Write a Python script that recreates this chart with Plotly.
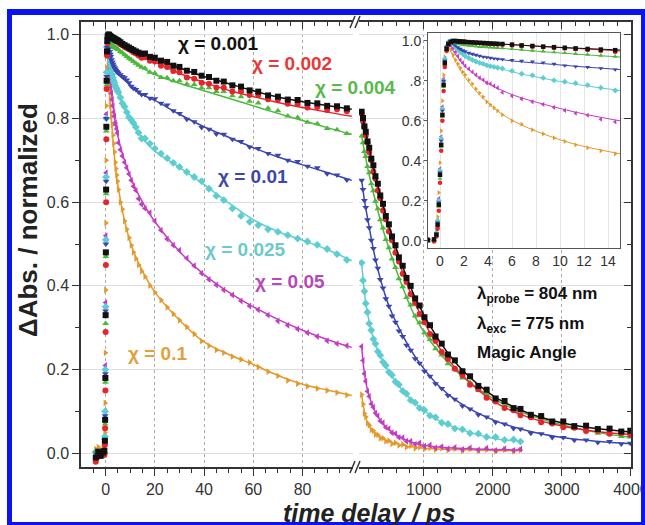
import plotly.graph_objects as go

# ---------------- data ----------------
T_EARLY = [-4, -3, -2, -1, -0.5, -0.3, -0.2, -0.1, 0, 0.1, 0.2, 0.3, 0.4, 0.55,
           0.7, 0.9, 1.1, 1.3, 1.5, 1.7, 1.9, 2.1, 2.4, 2.7, 3.0, 3.3, 3.6, 3.9,
           4.2, 4.5, 4.8, 5.2, 6.0, 6.8, 7.7, 8.6, 9.5, 10.4, 11.3, 12.3, 13.4, 14.6]
T_MID = [16, 18, 20, 22.5, 25, 27.5, 30, 33, 36, 39, 42, 45, 48, 51.5, 55, 58.5,
         62, 66, 70, 74, 78, 82, 86, 90, 94, 98]
T_LATE = [100, 120, 140, 160, 185, 210, 240, 270, 300, 335, 370, 410, 450, 495,
          540, 590, 640, 695, 750, 810, 875, 940, 1010, 1090, 1170, 1260, 1350,
          1450, 1560, 1670, 1790, 1910, 2040, 2170, 2300, 2400, 2550, 2700, 2860,
          3020, 3180, 3350, 3520, 3690, 3860, 3990]
TF_LEFT = [0.7, 2, 5, 10, 15, 20, 30, 40, 50, 60, 70, 80, 90, 100]
TF_RIGHT = [100, 150, 200, 300, 400, 500, 700, 900, 1200, 1500, 2000, 2500, 3000, 3500, 4000]
TF_RIGHT_SHORT = [100, 150, 200, 300, 400, 500, 700, 900, 1200, 1500, 2000, 2400]

# chi = 0.001 (black)
E_BLACK = [-0.01, 0.004, -0.006, 0.002, 0.006, 0.03, 0.08, 0.18, 0.33, 0.48, 0.63, 0.78, 0.89, 0.96,
           0.985, 0.995, 1.0, 1.0, 0.998, 0.997, 0.996, 0.995, 0.994, 0.993, 0.992, 0.991, 0.99, 0.989,
           0.988, 0.987, 0.986, 0.985, 0.982, 0.978, 0.975, 0.972, 0.969, 0.966, 0.963, 0.96, 0.957, 0.954]
M_BLACK = [0.955, 0.947, 0.945, 0.938, 0.935, 0.926, 0.923, 0.914, 0.911, 0.902, 0.899, 0.890, 0.888,
           0.879, 0.876, 0.867, 0.864, 0.855, 0.852, 0.845, 0.844, 0.837, 0.836, 0.830, 0.829, 0.824]
L_BLACK = [0.816, 0.801, 0.781, 0.768, 0.745, 0.730, 0.704, 0.688, 0.662, 0.644, 0.616, 0.596, 0.567,
           0.547, 0.518, 0.497, 0.468, 0.448, 0.419, 0.400, 0.370, 0.353, 0.325, 0.306, 0.279, 0.262,
           0.236, 0.222, 0.196, 0.184, 0.161, 0.152, 0.131, 0.125, 0.108, 0.106, 0.092, 0.089, 0.076,
           0.076, 0.065, 0.066, 0.058, 0.059, 0.052, 0.054]
FL_BLACK = [0.99, 0.995, 0.985, 0.968, 0.955, 0.943, 0.921, 0.900, 0.883, 0.866, 0.851, 0.840, 0.831, 0.822]
FR_BLACK = [0.816, 0.775, 0.736, 0.664, 0.600, 0.541, 0.443, 0.363, 0.275, 0.209, 0.138, 0.097, 0.073, 0.059, 0.051]

# chi = 0.002 (red)
E_RED = [-0.02, -0.008, 0.003, 0.006, -0.004, 0.02, 0.06, 0.15, 0.29, 0.45, 0.6, 0.75, 0.87, 0.95,
         0.98, 0.995, 1.0, 1.0, 1.0, 0.999, 0.998, 0.997, 0.995, 0.993, 0.991, 0.99, 0.988, 0.986,
         0.985, 0.984, 0.983, 0.981, 0.978, 0.975, 0.971, 0.968, 0.965, 0.962, 0.958, 0.955, 0.95, 0.945]
M_RED = [0.946, 0.938, 0.936, 0.926, 0.923, 0.913, 0.910, 0.898, 0.895, 0.885, 0.883, 0.874, 0.873,
         0.864, 0.864, 0.856, 0.856, 0.846, 0.845, 0.835, 0.834, 0.826, 0.827, 0.820, 0.822, 0.817]
L_RED = [0.812, 0.793, 0.780, 0.759, 0.743, 0.719, 0.700, 0.673, 0.656, 0.628, 0.609, 0.580, 0.559,
         0.530, 0.509, 0.479, 0.458, 0.429, 0.409, 0.380, 0.359, 0.333, 0.313, 0.285, 0.268, 0.242,
         0.225, 0.202, 0.186, 0.164, 0.153, 0.133, 0.124, 0.108, 0.103, 0.091, 0.086, 0.074, 0.071,
         0.062, 0.061, 0.053, 0.054, 0.047, 0.048, 0.044]
FL_RED = [0.99, 0.995, 0.985, 0.967, 0.950, 0.935, 0.908, 0.886, 0.867, 0.852, 0.838, 0.826, 0.815, 0.805]
FR_RED = [0.812, 0.769, 0.728, 0.654, 0.589, 0.530, 0.429, 0.349, 0.258, 0.196, 0.125, 0.087, 0.065, 0.052, 0.045]

# chi = 0.004 (green)
E_GREEN = [0.005, -0.003, 0.004, -0.002, 0.003, 0.03, 0.07, 0.17, 0.31, 0.47, 0.62, 0.77, 0.88, 0.955,
           0.985, 0.995, 0.993, 0.99, 0.986, 0.984, 0.981, 0.979, 0.977, 0.975, 0.973, 0.971, 0.97, 0.969,
           0.968, 0.967, 0.966, 0.964, 0.96, 0.957, 0.952, 0.948, 0.944, 0.94, 0.936, 0.932, 0.927, 0.922]
M_GREEN = [0.920, 0.910, 0.908, 0.898, 0.897, 0.890, 0.890, 0.882, 0.881, 0.873, 0.873, 0.864, 0.864,
           0.854, 0.852, 0.841, 0.837, 0.824, 0.818, 0.806, 0.802, 0.791, 0.787, 0.776, 0.773, 0.764]
L_GREEN = [0.758, 0.742, 0.721, 0.709, 0.685, 0.670, 0.644, 0.627, 0.602, 0.584, 0.558, 0.538, 0.511,
           0.491, 0.464, 0.444, 0.417, 0.398, 0.372, 0.354, 0.328, 0.312, 0.288, 0.272, 0.250, 0.235,
           0.214, 0.201, 0.180, 0.169, 0.151, 0.142, 0.125, 0.118, 0.104, 0.101, 0.088, 0.084, 0.072,
           0.069, 0.059, 0.057, 0.048, 0.047, 0.040, 0.039]
FL_GREEN = [0.99, 0.980, 0.964, 0.940, 0.920, 0.905, 0.884, 0.866, 0.848, 0.830, 0.812, 0.795, 0.778, 0.762]
FR_GREEN = [0.758, 0.713, 0.672, 0.602, 0.540, 0.487, 0.394, 0.318, 0.245, 0.192, 0.131, 0.093, 0.068, 0.050, 0.038]

# chi = 0.01 (blue)
E_BLUE = [0.0, 0.006, -0.004, 0.003, -0.002, 0.03, 0.09, 0.19, 0.34, 0.5, 0.65, 0.8, 0.9, 0.97,
          0.99, 1.0, 0.99, 0.98, 0.968, 0.96, 0.953, 0.948, 0.94, 0.935, 0.93, 0.925, 0.921, 0.918,
          0.915, 0.912, 0.91, 0.908, 0.904, 0.9, 0.897, 0.892, 0.885, 0.877, 0.872, 0.869, 0.863, 0.857]
M_BLUE = [0.857, 0.848, 0.847, 0.836, 0.832, 0.818, 0.812, 0.798, 0.792, 0.778, 0.774, 0.763, 0.762,
          0.750, 0.745, 0.732, 0.728, 0.716, 0.712, 0.700, 0.697, 0.686, 0.682, 0.668, 0.665, 0.653]
L_BLUE = [0.652, 0.630, 0.604, 0.587, 0.558, 0.539, 0.509, 0.489, 0.462, 0.442, 0.415, 0.395, 0.369,
          0.351, 0.328, 0.313, 0.292, 0.279, 0.258, 0.246, 0.226, 0.215, 0.196, 0.184, 0.166, 0.155,
          0.138, 0.129, 0.113, 0.106, 0.092, 0.087, 0.074, 0.070, 0.059, 0.058, 0.048, 0.047, 0.038,
          0.038, 0.031, 0.032, 0.026, 0.028, 0.022, 0.024]
FL_BLUE = [1.0, 0.945, 0.908, 0.880, 0.857, 0.843, 0.810, 0.780, 0.755, 0.730, 0.708, 0.689, 0.671, 0.652]
FR_BLUE = [0.652, 0.595, 0.549, 0.464, 0.400, 0.350, 0.280, 0.225, 0.164, 0.123, 0.080, 0.054, 0.038, 0.029, 0.023]

# chi = 0.025 (cyan)
E_CYAN = [0.004, -0.004, 0.002, 0.005, 0.0, 0.04, 0.1, 0.2, 0.35, 0.51, 0.66, 0.8, 0.91, 0.97,
          0.995, 1.0, 0.985, 0.97, 0.955, 0.945, 0.935, 0.925, 0.915, 0.905, 0.897, 0.89, 0.885, 0.878,
          0.874, 0.87, 0.866, 0.862, 0.85, 0.836, 0.828, 0.815, 0.803, 0.796, 0.789, 0.779, 0.766, 0.752]
M_CYAN = [0.752, 0.740, 0.728, 0.716, 0.705, 0.694, 0.684, 0.672, 0.660, 0.650, 0.632, 0.615, 0.605,
          0.585, 0.567, 0.553, 0.545, 0.535, 0.529, 0.521, 0.513, 0.506, 0.498, 0.488, 0.476, 0.462]
L_CYAN = [0.455, 0.413, 0.387, 0.358, 0.337, 0.310, 0.294, 0.273, 0.262, 0.243, 0.234, 0.218, 0.210,
          0.194, 0.187, 0.171, 0.164, 0.149, 0.142, 0.127, 0.121, 0.108, 0.103, 0.090, 0.086, 0.073,
          0.070, 0.059, 0.057, 0.048, 0.047, 0.039, 0.039, 0.032, 0.033, 0.028]
FL_CYAN = [1.0, 0.930, 0.862, 0.797, 0.752, 0.722, 0.683, 0.642, 0.598, 0.558, 0.530, 0.509, 0.487, 0.460]
FR_CYAN = [0.455, 0.372, 0.322, 0.260, 0.223, 0.194, 0.149, 0.116, 0.080, 0.059, 0.036, 0.029]

# chi = 0.05 (magenta)
E_MAGENTA = [-0.015, 0.003, -0.005, 0.004, 0.006, 0.04, 0.1, 0.21, 0.36, 0.52, 0.67, 0.81, 0.91, 0.97,
             0.99, 0.982, 0.965, 0.945, 0.925, 0.905, 0.89, 0.875, 0.86, 0.845, 0.83, 0.815, 0.805, 0.79,
             0.785, 0.775, 0.765, 0.742, 0.725, 0.71, 0.695, 0.682, 0.667, 0.652, 0.638, 0.628, 0.608, 0.595]
M_MAGENTA = [0.585, 0.575, 0.555, 0.533, 0.512, 0.497, 0.485, 0.466, 0.448, 0.430, 0.415, 0.402, 0.390,
             0.378, 0.364, 0.352, 0.343, 0.330, 0.316, 0.306, 0.297, 0.288, 0.279, 0.269, 0.262, 0.257]
L_MAGENTA = [0.255, 0.222, 0.190, 0.172, 0.148, 0.136, 0.118, 0.110, 0.096, 0.090, 0.077, 0.073, 0.062,
             0.059, 0.049, 0.047, 0.038, 0.037, 0.029, 0.029, 0.022, 0.025, 0.017, 0.020, 0.013, 0.016,
             0.011, 0.014, 0.009, 0.013, 0.008, 0.012, 0.007, 0.011, 0.007, 0.010]
FL_MAGENTA = [0.99, 0.880, 0.757, 0.662, 0.600, 0.553, 0.482, 0.427, 0.385, 0.350, 0.320, 0.294, 0.272, 0.253]
FR_MAGENTA = [0.255, 0.180, 0.142, 0.098, 0.072, 0.056, 0.035, 0.023, 0.015, 0.012, 0.009, 0.008]

# chi = 0.1 (orange)
E_ORANGE = [0.01, 0.015, 0.005, 0.012, 0.008, 0.05, 0.12, 0.24, 0.39, 0.55, 0.7, 0.83, 0.92, 0.975,
            0.98, 0.955, 0.93, 0.905, 0.885, 0.865, 0.845, 0.83, 0.805, 0.785, 0.76, 0.74, 0.72, 0.695,
            0.68, 0.665, 0.65, 0.63, 0.6, 0.583, 0.555, 0.535, 0.515, 0.497, 0.48, 0.465, 0.45, 0.435]
M_ORANGE = [0.422, 0.401, 0.384, 0.366, 0.349, 0.333, 0.318, 0.302, 0.285, 0.268, 0.257, 0.247, 0.240,
            0.231, 0.224, 0.217, 0.206, 0.195, 0.185, 0.174, 0.166, 0.160, 0.155, 0.150, 0.145, 0.139]
L_ORANGE = [0.140, 0.117, 0.095, 0.087, 0.072, 0.067, 0.056, 0.054, 0.045, 0.044, 0.036, 0.036, 0.029,
            0.030, 0.023, 0.025, 0.019, 0.021, 0.015, 0.018, 0.012, 0.015, 0.010, 0.013, 0.009, 0.012,
            0.008, 0.011, 0.006, 0.010, 0.006, 0.009, 0.005, 0.009, 0.005, 0.008]
FL_ORANGE = [0.975, 0.825, 0.640, 0.505, 0.435, 0.385, 0.318, 0.266, 0.236, 0.212, 0.186, 0.165, 0.151, 0.138]
FR_ORANGE = [0.140, 0.092, 0.068, 0.047, 0.035, 0.028, 0.019, 0.014, 0.010, 0.009, 0.007, 0.006]

LABELS = ["χ = 0.001", "χ = 0.002", "χ = 0.004", "χ = 0.01", "χ = 0.025", "χ = 0.05", "χ = 0.1"]
MAIN_Y_TICKS = [0.0, 0.2, 0.4, 0.6, 0.8, 1.0]
INSET_Y_TICKTEXT = ["0.0", "0.2", "0.4", "0.6", ".8", "1.0"]
LEFT_X_TICKS = [0, 20, 40, 60, 80]

# ---------------- styles ----------------
SERIES = [  # drawn bottom -> top
    dict(E=E_ORANGE, M=M_ORANGE, L=L_ORANGE, FL=FL_ORANGE, FR=FR_ORANGE, TFR=TF_RIGHT_SHORT,
         color="#e49a2a", text="#e0a03c", symbol="triangle-right", label=6),
    dict(E=E_MAGENTA, M=M_MAGENTA, L=L_MAGENTA, FL=FL_MAGENTA, FR=FR_MAGENTA, TFR=TF_RIGHT_SHORT,
         color="#c43cc2", text="#b848b8", symbol="triangle-left", label=5),
    dict(E=E_CYAN, M=M_CYAN, L=L_CYAN, FL=FL_CYAN, FR=FR_CYAN, TFR=TF_RIGHT_SHORT,
         color="#5ccdd0", text="#6ccacd", symbol="diamond", label=4),
    dict(E=E_BLUE, M=M_BLUE, L=L_BLUE, FL=FL_BLUE, FR=FR_BLUE, TFR=TF_RIGHT,
         color="#3a45ad", text="#3c48a8", symbol="triangle-down", label=3),
    dict(E=E_GREEN, M=M_GREEN, L=L_GREEN, FL=FL_GREEN, FR=FR_GREEN, TFR=TF_RIGHT,
         color="#4cb83c", text="#5ab84c", symbol="triangle-up", label=2),
    dict(E=E_RED, M=M_RED, L=L_RED, FL=FL_RED, FR=FR_RED, TFR=TF_RIGHT,
         color="#e8232a", text="#e83838", symbol="circle", label=1),
    dict(E=E_BLACK, M=M_BLACK, L=L_BLACK, FL=FL_BLACK, FR=FR_BLACK, TFR=TF_RIGHT,
         color="#111111", text="#111111", symbol="square", label=0),
]
LABEL_POS = [(218, 44), (292, 64), (355, 87), (253, 177), (245, 250), (290, 281), (157, 353)]

W, H = 645, 525
ML, MR, MT, MB = 81, 14, 22, 58
PW, PH = W - ML - MR, H - MT - MB


def px(x):
    return (x - ML) / PW


def py(y):
    return (H - MB - y) / PH


FONT = "Liberation Sans, Arial, Helvetica, sans-serif"
AX = "#333333"

fig = go.Figure()

for s in SERIES:
    mk = dict(symbol=s["symbol"], color=s["color"], size=6, line=dict(width=0))
    # main left segment
    fig.add_trace(go.Scatter(x=T_EARLY + T_MID, y=s["E"] + s["M"], mode="markers", marker=mk,
                             xaxis="x", yaxis="y", hoverinfo="skip"))
    fig.add_trace(go.Scatter(x=TF_LEFT, y=s["FL"], mode="lines", line=dict(color=s["color"], width=1.5, shape="spline"),
                             xaxis="x", yaxis="y", hoverinfo="skip"))
    # main right segment
    fig.add_trace(go.Scatter(x=T_LATE[:len(s["L"])], y=s["L"], mode="markers", marker=mk,
                             xaxis="x2", yaxis="y", hoverinfo="skip"))
    fig.add_trace(go.Scatter(x=s["TFR"], y=s["FR"], mode="lines", line=dict(color=s["color"], width=1.5, shape="spline"),
                             xaxis="x2", yaxis="y", hoverinfo="skip"))

for s in SERIES:
    mki = dict(symbol=s["symbol"], color=s["color"], size=4.5, line=dict(width=0))
    fig.add_trace(go.Scatter(x=T_EARLY, y=s["E"], mode="markers", marker=mki,
                             xaxis="x5", yaxis="y3", hoverinfo="skip"))
    fig.add_trace(go.Scatter(x=TF_LEFT, y=s["FL"], mode="lines", line=dict(color=s["color"], width=1, shape="spline"),
                             xaxis="x5", yaxis="y3", hoverinfo="skip"))

# empty traces so that mirrored tick axes are drawn
for xa, ya in (("x3", "y"), ("x4", "y"), ("x2", "y2")):
    fig.add_trace(go.Scatter(x=[None], y=[None], xaxis=xa, yaxis=ya, mode="markers", hoverinfo="skip"))

YR = [-0.0327, 1.0303]
XR1 = [-10, 100.5]
XR2 = [62, 4000.5]
D1 = [0, px(353)]
D2 = [px(359), 1]
LEFT_MINOR = [-5, 5, 10, 15, 25, 30, 35, 45, 50, 55, 65, 70, 75, 85, 90, 95]
Y_MINOR = [0.1, 0.3, 0.5, 0.7, 0.9]

common_x = dict(showline=True, linecolor=AX, linewidth=1.5, zeroline=False, tickcolor=AX, tickwidth=1.3,
                automargin=False, tickfont=dict(size=16, color=AX, family=FONT))

fig.update_layout(
    width=W, height=H, margin=dict(l=ML, r=MR, t=MT, b=MB, autoexpand=False),
    paper_bgcolor="white", plot_bgcolor="white", showlegend=False,
    font=dict(family=FONT, size=16, color=AX),
    xaxis=dict(domain=D1, range=XR1, anchor="y", tickmode="array", tickvals=LEFT_X_TICKS,
               ticks="outside", ticklen=7, showgrid=True, gridcolor="#ababab", griddash="dot", gridwidth=1,
               minor=dict(tickmode="array", tickvals=LEFT_MINOR, ticks="outside", ticklen=4, tickcolor=AX,
                          showgrid=False), **common_x),
    xaxis2=dict(domain=D2, range=XR2, anchor="y", tickmode="linear", tick0=0, dtick=1000,
                ticks="outside", ticklen=7, showgrid=True, gridcolor="#ababab", griddash="dot", gridwidth=1,
                ticklabeloverflow="allow",
                minor=dict(tickmode="linear", tick0=0, dtick=200, ticks="outside", ticklen=4, tickcolor=AX,
                           showgrid=False), **common_x),
    xaxis3=dict(overlaying="x", side="top", anchor="y", range=XR1, tickmode="array", tickvals=LEFT_X_TICKS,
                ticks="inside", ticklen=7, showticklabels=False, showgrid=False,
                minor=dict(tickmode="array", tickvals=LEFT_MINOR, ticks="inside", ticklen=4, tickcolor=AX,
                           showgrid=False), **common_x),
    xaxis4=dict(overlaying="x2", side="top", anchor="y", range=XR2, tickmode="linear", tick0=0, dtick=1000,
                ticks="inside", ticklen=7, showticklabels=False, showgrid=False,
                minor=dict(tickmode="linear", tick0=0, dtick=200, ticks="inside", ticklen=4, tickcolor=AX,
                           showgrid=False), **common_x),
    yaxis=dict(domain=[0, 1], range=YR, anchor="x", tickmode="array", tickvals=MAIN_Y_TICKS,
               ticktext=["%.1f" % v for v in MAIN_Y_TICKS], ticks="outside", ticklen=7,
               showgrid=True, gridcolor="#dedede", gridwidth=1,
               minor=dict(tickmode="array", tickvals=Y_MINOR, ticks="outside", ticklen=4, tickcolor=AX,
                          showgrid=False), **common_x),
    yaxis2=dict(overlaying="y", side="right", anchor="x2", range=YR, tickmode="array", tickvals=MAIN_Y_TICKS,
                ticks="inside", ticklen=7, showticklabels=False, showgrid=False,
                minor=dict(tickmode="array", tickvals=Y_MINOR, ticks="inside", ticklen=4, tickcolor=AX,
                           showgrid=False), **common_x),
    xaxis5=dict(domain=[px(428), px(620)], anchor="y3", range=[-1, 15], tickmode="linear", tick0=0, dtick=2,
                ticks="", showline=True, mirror=True, linecolor="#555555", linewidth=1, zeroline=False,
                showgrid=True, gridcolor="#e4e4e4", gridwidth=1, automargin=False,
                tickfont=dict(size=14, color=AX, family=FONT)),
    yaxis3=dict(domain=[py(248), py(33)], anchor="x5", range=[-0.037, 1.04], tickmode="array",
                tickvals=MAIN_Y_TICKS, ticktext=INSET_Y_TICKTEXT, ticks="outside", ticklen=3, tickcolor="#555555",
                showline=True, mirror=True, linecolor="#555555", linewidth=1, zeroline=False, showgrid=False,
                automargin=False, tickfont=dict(size=14, color=AX, family=FONT)),
)

ann = []
for s in SERIES:
    k = s["label"]
    cx, cy = LABEL_POS[k]
    ann.append(dict(x=px(cx), y=py(cy), xref="paper", yref="paper", text="<b>%s</b>" % LABELS[k],
                    showarrow=False, xanchor="center", yanchor="middle",
                    font=dict(size=19, color=s["text"], family=FONT)))

ann += [
    dict(x=px(475), y=py(295), xref="paper", yref="paper", text="<b>λ<sub>probe</sub> = 804 nm</b>",
         showarrow=False, xanchor="left", yanchor="middle", font=dict(size=17, color="#111", family=FONT)),
    dict(x=px(475), y=py(325), xref="paper", yref="paper", text="<b>λ<sub>exc</sub> = 775 nm</b>",
         showarrow=False, xanchor="left", yanchor="middle", font=dict(size=17, color="#111", family=FONT)),
    dict(x=px(475), y=py(352), xref="paper", yref="paper", text="<b>Magic Angle</b>",
         showarrow=False, xanchor="left", yanchor="middle", font=dict(size=17, color="#111", family=FONT)),
    dict(x=px(28), y=py(220), xref="paper", yref="paper", text="<b>ΔAbs. / normalized</b>", textangle=-90,
         showarrow=False, xanchor="center", yanchor="middle", font=dict(size=26, color="#222", family=FONT)),
    dict(x=px(369), y=py(513), xref="paper", yref="paper", text="<b><i>time delay / ps</i></b>",
         showarrow=False, xanchor="center", yanchor="middle", font=dict(size=25, color="#222", family=FONT)),
]
fig.update_layout(annotations=ann)

shapes = []
# axis break marks
for yb in (467, 22):
    for dx in (0, 5):
        shapes.append(dict(type="line", xref="paper", yref="paper",
                           x0=px(350 + dx), y0=py(yb + 6), x1=px(355 + dx), y1=py(yb - 6),
                           line=dict(color=AX, width=1.5)))
# blue frame
BLUE = "#0a14f0"
for (x0, y0, x1, y1) in ((7, 9, 12, 525), (7, 9, 645, 15), (641, 9, 645, 525), (7, 522, 645, 525)):
    shapes.append(dict(type="rect", xref="paper", yref="paper", x0=px(x0), x1=px(x1), y0=py(y1), y1=py(y0),
                       fillcolor=BLUE, line=dict(width=0), layer="above"))
fig.update_layout(shapes=shapes)

fig.write_html("out.html")
